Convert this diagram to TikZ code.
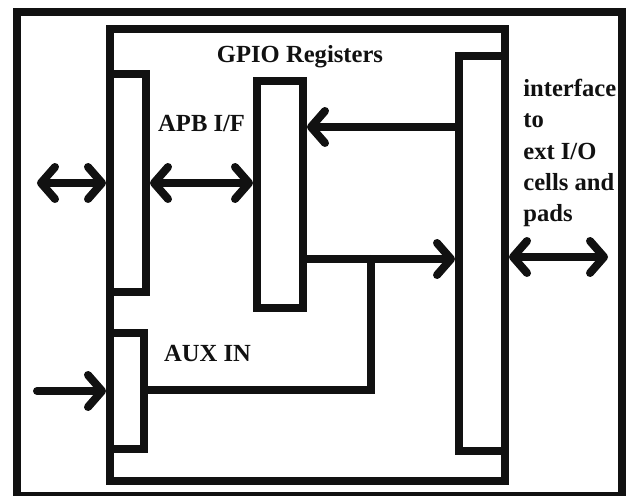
\documentclass[tikz,border=0pt]{standalone}
\usepackage{fontspec}
\setmainfont{Liberation Serif}
\usetikzlibrary{arrows.meta,positioning}
\definecolor{Ink}{HTML}{111111}

\begin{document}
\begin{tikzpicture}[x=1cm,y=1cm,
    >={Straight Barb[length=0.28cm,width=0.64cm,round]},
    every node/.style={font=\fontsize{14}{17.9}\selectfont\bfseries,text=Ink},
    blk/.style={draw=Ink,line width=0.16cm,inner sep=0pt},
    wire/.style={draw=Ink,line width=0.16cm,line cap=round}]
  \useasboundingbox (0,0) rectangle (12.56,9.9);
  \draw[Ink,line width=0.16cm] (0.34,-0.02) rectangle (12.44,9.66);

  % register block and its parts
  \node[blk,minimum width=7.9cm,minimum height=9.04cm] (gpio) at (6.15,4.8) {};
  \node[blk,minimum width=0.72cm,minimum height=4.36cm] (apb) at (2.56,6.24) {};
  \node[blk,minimum width=0.68cm,minimum height=2.32cm] (aux) at (2.54,2.08) {};
  \node[blk,minimum width=0.92cm,minimum height=4.54cm] (regs) at (5.6,6.01) {};
  \node[blk,minimum width=0.92cm,minimum height=7.9cm] (ioif) at (9.64,4.83) {};

  \node[anchor=base] (gpiolbl) at (6.0,8.64) {GPIO Registers};
  \node[anchor=base west] (apblbl) at (3.04,7.26) {APB I/F};
  \node[anchor=base west] (auxlbl) at (3.16,2.68) {AUX IN};
  \node[anchor=base west,align=left,inner sep=0pt] (padlbl) at (10.46,5.46)
    {interface\\to\\ext I/O\\cells and\\pads};

  % connections
  \coordinate (extbus) at (0.74,6.24);
  \coordinate (auxsrc) at (0.74,2.08);
  \coordinate (tap) at (7.42,4.72);
  \coordinate (pads) at (12.16,4.76);
  \draw[wire,<->] (extbus) -- (apb.west);
  \draw[wire,<->] (apb.east) -- (apb.east -| regs.west);
  \draw[wire,->] (ioif.west |- 0,7.36) -- (regs.east |- 0,7.36);
  \draw[wire,->] (regs.east |- tap) -- (ioif.west |- tap);
  \draw[wire] (aux.east |- 0,2.1) -| (tap);
  \draw[wire,->] (auxsrc) -- (aux.west);
  \draw[wire,<->] (ioif.east |- pads) -- (pads);
\end{tikzpicture}
\end{document}
